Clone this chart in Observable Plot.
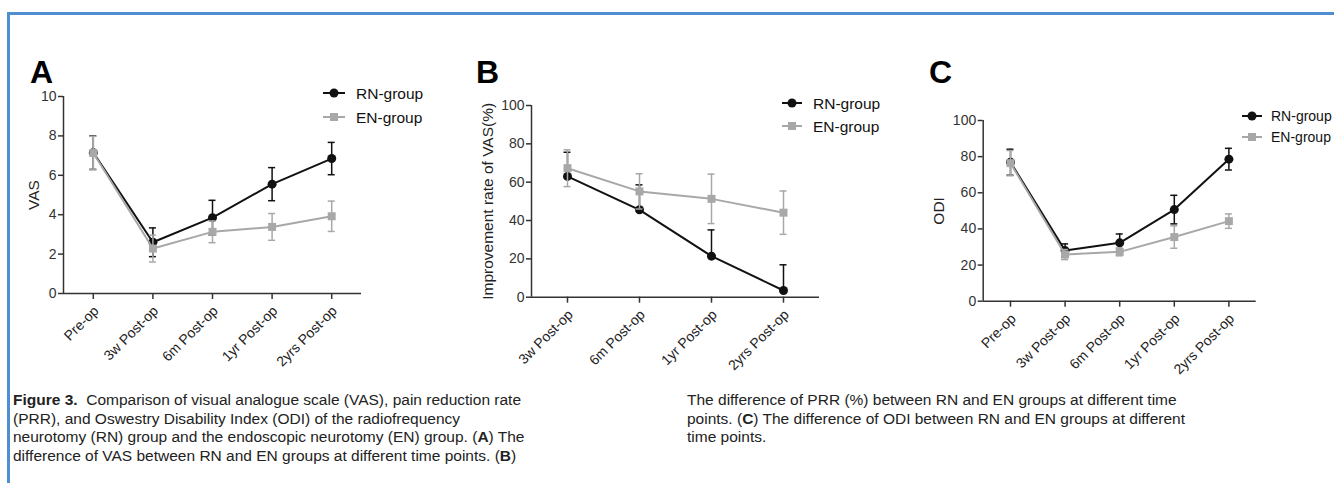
<!DOCTYPE html>
<html><head><meta charset="utf-8">
<script src="https://cdn.jsdelivr.net/npm/d3@7"></script>
<script src="https://cdn.jsdelivr.net/npm/@observablehq/plot@0.6"></script>
<style>
html,body{margin:0;padding:0;background:#fff;}
#root{position:relative;width:1334px;height:483px;overflow:hidden;font-family:"Liberation Sans",Arial,sans-serif;}
.border-top{position:absolute;left:7px;top:12px;width:1327px;height:3px;background:#4f8fd1;}
.border-left{position:absolute;left:7px;top:12px;width:2.5px;height:471px;background:#4f8fd1;}
.letter{position:absolute;font-weight:bold;font-size:32px;line-height:1;color:#000;}
.cap{position:absolute;font-family:"Liberation Sans Narrow","Arial Narrow",sans-serif;font-size:15.5px;line-height:18.5px;color:#222;white-space:nowrap;}
</style></head>
<body><div id="root">
<div class="border-top"></div><div class="border-left"></div>
<div class="letter" style="left:30px;top:56px">A</div>
<div class="letter" style="left:476px;top:56px">B</div>
<div class="letter" style="left:929px;top:56px">C</div>
<div class="cap" style="left:13px;top:391px">
<div><b>Figure 3.</b>&nbsp; Comparison of visual analogue scale (VAS), pain reduction rate</div>
<div>(PRR), and Oswestry Disability Index (ODI) of the radiofrequency</div>
<div>neurotomy (RN) group and the endoscopic neurotomy (EN) group. (<b>A</b>) The</div>
<div>difference of VAS between RN and EN groups at different time points. (<b>B</b>)</div>
</div>
<div class="cap" style="left:687px;top:391px">
<div>The difference of PRR (%) between RN and EN groups at different time</div>
<div>points. (<b>C</b>) The difference of ODI between RN and EN groups at different</div>
<div>time points.</div>
</div>
</div>
<script>
// ---- data ----
const timeCats = ["Pre-op", "3w Post-op", "6m Post-op", "1yr Post-op", "2yrs Post-op"];
const postCats = ["3w Post-op", "6m Post-op", "1yr Post-op", "2yrs Post-op"];
const seriesNames = ["RN-group", "EN-group"];

const vasRN = [7.15, 2.60, 3.85, 5.55, 6.85];
const vasRNsd = [0.85, 0.73, 0.88, 0.84, 0.82];
const vasEN = [7.13, 2.28, 3.13, 3.38, 3.92];
const vasENsd = [0.85, 0.68, 0.55, 0.68, 0.77];

const prrRN = [63.0, 45.6, 21.4, 3.5];
const prrRNsdUp = [12.6, 13.0, 13.7, 13.4];
const prrRNsdDown = [0, 0, 0, 0];
const prrEN = [67.3, 55.2, 51.3, 44.1];
const prrENsd = [9.6, 9.2, 12.9, 11.3];

const odiRN = [76.9, 28.0, 32.3, 50.7, 78.6];
const odiRNsd = [7.2, 3.7, 4.9, 7.9, 6.0];
const odiEN = [76.4, 25.8, 27.3, 35.5, 44.3];
const odiENsd = [7.0, 2.8, 2.2, 6.2, 4.0];

const vasTicks = [0, 2, 4, 6, 8, 10];
const pctTicks = [0, 20, 40, 60, 80, 100];

// ---- drawing ----
const RN_COLOR = "#111";
const EN_COLOR = "#a8a8a8";
const AXIS_COLOR = "#333";
const FONT = "'Liberation Sans', Arial, sans-serif";
const root = document.getElementById("root");

function rows(cats, v, up, down) {
  return cats.map((c, i) => ({i, cat: c, v: v[i], hi: v[i] + up[i], lo: v[i] - down[i], up: up[i], down: down[i]}));
}

function seriesMarks(data, color, symbol) {
  const capOpts = {x1: "i", x2: "i", insetLeft: -3.5, insetRight: -3.5, stroke: color, strokeWidth: 1.5};
  return [
    Plot.ruleX(data, {x: "i", y1: "lo", y2: "hi", stroke: color, strokeWidth: 1.5}),
    Plot.ruleY(data.filter(d => d.up > 0), {...capOpts, y: "hi"}),
    Plot.ruleY(data.filter(d => d.down > 0), {...capOpts, y: "lo"}),
    Plot.line(data, {x: "i", y: "v", stroke: color, strokeWidth: 2}),
    Plot.dot(data, {x: "i", y: "v", r: 4.5, symbol, fill: color, stroke: null})
  ];
}

function panel(p) {
  const n = p.cats.length;
  const rn = rows(p.cats, p.rn, p.rnUp, p.rnDown);
  const en = rows(p.cats, p.en, p.enSd, p.enSd);
  const svg = Plot.plot({
    width: p.width, height: p.height,
    marginLeft: p.ml, marginRight: p.mr, marginTop: p.mt, marginBottom: p.mb,
    style: {position: "absolute", left: p.left + "px", top: p.top + "px", background: "transparent",
            overflow: "visible", fontFamily: FONT, fontSize: "14px", maxWidth: "none"},
    x: {type: "linear", domain: [-0.5, n - 0.5]},
    y: {type: "linear", domain: [p.yTicks[0], p.yTicks[p.yTicks.length - 1]]},
    marks: [
      Plot.ruleY([p.yTicks[0]], {stroke: AXIS_COLOR, strokeWidth: 1.5}),
      Plot.ruleX([-0.5], {stroke: AXIS_COLOR, strokeWidth: 1.5}),
      Plot.axisX({ticks: d3.range(n), tickSize: 6, stroke: AXIS_COLOR, fill: "none", strokeWidth: 1.5, label: null}),
      Plot.axisX({ticks: d3.range(n), tickFormat: i => p.cats[i], tickRotate: -45, tickSize: 0, tickPadding: 15, dx: 3,
                  fill: "#222", fontSize: 14, label: null}),
      Plot.axisY({ticks: p.yTicks, tickSize: 5, tickPadding: 2, color: AXIS_COLOR, strokeWidth: 1.5, fontSize: 14, label: null}),
      Plot.text([p.label], {text: d => d, frameAnchor: "left", textAnchor: "middle", rotate: -90, dx: p.labelDx,
                            fontSize: 15.5, fill: "#222"}),
      ...seriesMarks(rn, RN_COLOR, "circle"),
      ...seriesMarks(en, EN_COLOR, "square")
    ]
  });
  root.appendChild(svg);
}

panel({cats: timeCats, rn: vasRN, rnUp: vasRNsd, rnDown: vasRNsd, en: vasEN, enSd: vasENsd, yTicks: vasTicks,
       label: "VAS", labelDx: -29, left: 0, top: 60, width: 380, height: 320, ml: 63, mr: 19, mt: 36, mb: 87});
panel({cats: postCats, rn: prrRN, rnUp: prrRNsdUp, rnDown: prrRNsdDown, en: prrEN, enSd: prrENsd, yTicks: pctTicks,
       label: "Improvement rate of VAS(%)", labelDx: -43, left: 440, top: 60, width: 400, height: 320, ml: 91, mr: 21, mt: 45, mb: 83.3});
panel({cats: timeCats, rn: odiRN, rnUp: odiRNsd, rnDown: odiRNsd, en: odiEN, enSd: odiENsd, yTicks: pctTicks,
       label: "ODI", labelDx: -43.7, left: 880, top: 60, width: 400, height: 320, ml: 102.7, mr: 24.3, mt: 60, mb: 79.3});

// ---- legends ----
const legendPos = [
  {x: 323, y: 93, dy: 24, w: 22, gap: 11, fs: 15.5},
  {x: 782, y: 103, dy: 23, w: 20, gap: 11, fs: 15.5},
  {x: 1242, y: 116, dy: 21, w: 20, gap: 9, fs: 14}
];
const ov = d3.select(root).append("svg").attr("width", 1334).attr("height", 483)
  .style("position", "absolute").style("left", 0).style("top", 0).style("overflow", "hidden")
  .style("font-family", FONT);
legendPos.forEach(lp => {
  seriesNames.forEach((name, k) => {
    const y = lp.y + k * lp.dy, color = k === 0 ? RN_COLOR : EN_COLOR;
    const g = ov.append("g");
    g.append("line").attr("x1", lp.x).attr("x2", lp.x + lp.w).attr("y1", y).attr("y2", y)
      .attr("stroke", color).attr("stroke-width", 2);
    if (k === 0) g.append("circle").attr("cx", lp.x + lp.w / 2).attr("cy", y).attr("r", 4.5).attr("fill", color);
    else g.append("rect").attr("x", lp.x + lp.w / 2 - 4).attr("y", y - 4).attr("width", 8).attr("height", 8).attr("fill", color);
    g.append("text").attr("x", lp.x + lp.w + lp.gap).attr("y", y + lp.fs * 0.36).attr("font-size", lp.fs).attr("fill", "#111").text(name);
  });
});
</script>
</body></html>
